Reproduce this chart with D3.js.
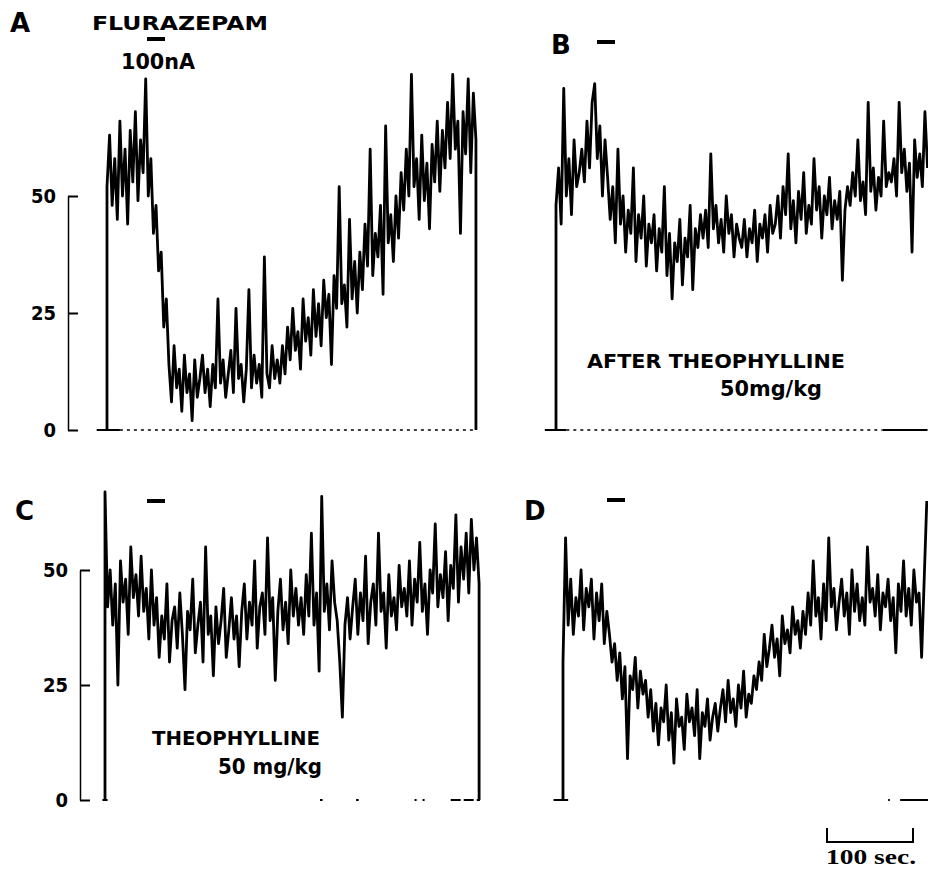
<!DOCTYPE html>
<html><head><meta charset="utf-8">
<script src="https://cdn.jsdelivr.net/npm/d3@7"></script>
<style>
html,body{margin:0;padding:0;background:#fff;}
svg{display:block;}
.lab{font-family:"DejaVu Sans","Liberation Sans",sans-serif;font-weight:bold;fill:#000;}
.tick text{font-family:"DejaVu Sans Condensed","Liberation Sans Narrow","DejaVu Sans",sans-serif;font-weight:bold;font-size:20px;fill:#000;}
</style></head>
<body>
<script>
// ---- data (firing rate, spikes/s; sampled every 3 s) ----
const sampleStep = 3;
const yTicks = [0, 25, 50];
const panelLetters = ["A", "B", "C", "D"];

const traceA = [52,63,48,58,45,66,50,60,44,64,53,68,49,62,55,75,
  50,58,42,48,34,38,22,28,
  14,6,18,9,13,4,16,8,12,2,15,7,11,
  16,8,13,5,14,9,28,10,15,7,12,17,8,26,11,14,6,13,30,9,16,10,14,7,37,12,9,18,11,15,10,
  18,12,22,15,26,17,21,13,28,19,24,16,30,20,27,18,32,
  24,29,14,33,26,52,27,31,22,45,28,36,25,
  38,30,44,35,60,33,42,37,48,29,65,40,46,36,50,41,
  55,47,60,50,76,52,58,45,63,49,57,43,61,53,66,51,
  64,56,70,58,76,60,66,42,68,59,75,55,72,62];

const traceB = [48,56,44,73,50,58,46,62,52,55,
  60,53,66,56,70,74,58,65,50,62,54,
  45,52,40,60,44,50,38,47,42,56,36,46,41,50,35,44,
  40,46,34,43,38,52,33,42,28,40,36,45,31,41,37,48,30,43,39,46,
  41,47,39,59,43,48,40,45,38,50,42,46,37,44,41,
  39,45,37,43,40,47,36,44,41,46,38,48,42,
  44,50,41,52,46,59,43,49,40,51,45,55,42,48,44,58,47,52,41,50,46,54,43,49,45,51,
  32,47,52,48,55,50,62,49,53,46,70,51,56,47,54,50,66,52,55,
  53,58,50,70,55,60,51,57,38,62,54,59,52,68,56];

const traceC = [67,
  42,50,38,47,25,52,43,48,36,55,44,49,40,53,41,46,35,50,
  38,44,31,40,35,47,30,39,42,33,45,36,24,41,37,48,32,38,43,30,55,36,40,27,42,34,39,46,31,37,44,35,40,29,
  41,47,35,43,38,52,33,42,45,36,57,39,44,26,41,48,37,43,34,50,40,46,38,
  44,36,49,40,58,38,45,28,66,41,47,37,52,43,39,
  30,18,38,44,35,
  42,48,36,45,39,53,34,43,47,38,58,41,45,33,49,40,44,37,51,42,
  46,40,52,38,48,43,56,41,47,36,50,45,60,42,49,44,54,39,51,46,62,43,55,48,58,45,61,50,57,47];

const traceD = [30,57,38,48,36,
  44,40,50,37,46,42,48,35,45,39,47,34,41,36,
  30,34,26,32,22,29,9,27,24,31,20,28,23,26,18,
  24,15,21,12,20,17,25,13,19,8,22,16,18,11,23,17,20,14,24,9,19,16,22,13,18,21,15,
  20,24,17,26,19,22,16,25,20,28,18,23,21,27,24,
  30,26,36,29,33,38,31,35,27,40,34,37,32,42,36,39,33,
  41,36,45,38,52,40,44,35,47,39,57,42,46,37,43,48,40,45,36,50,41,47,39,44,38,55,43,46,40,49,37,45,42,48,39,44,32,47,41,52,40,46,38,50,43,45,31,48,65];

// ---- layout ----
const W = 928, H = 871;
const svg = d3.select("body").append("svg").attr("width", W).attr("height", H);

const pxPer100s = 86;
const yTop = d3.scaleLinear().domain([0, 50]).range([430, 196]);
const yBot = d3.scaleLinear().domain([0, 50]).range([800, 570]);

const panels = [
  {data: traceA, x0: 107, y: yTop, closeEnd: true},
  {data: traceB, x0: 556, y: yTop, closeEnd: false},
  {data: traceC, x0: 105, y: yBot, closeEnd: true},
  {data: traceD, x0: 563, y: yBot, closeEnd: false}
];

panels.forEach(p => {
  const x = d3.scaleLinear().domain([0, 100]).range([p.x0, p.x0 + pxPer100s]);
  p.x = x;
  const pts = p.data.map((v, i) => [i * sampleStep, v]);
  const tEnd = (p.data.length - 1) * sampleStep;
  const full = [[0, 0]].concat(pts);
  if (p.closeEnd) full.push([tEnd, 0]);
  const line = d3.line().x(d => x(d[0])).y(d => p.y(d[1])).curve(d3.curveLinear);
  svg.append("path").attr("d", line(full))
    .attr("fill", "none").attr("stroke", "#000").attr("stroke-width", 2.8)
    .attr("stroke-linejoin", "round");
});

// baselines
function baseline(p, t0, t1, dash, sw) {
  svg.append("line").attr("x1", p.x(t0)).attr("x2", p.x(t1))
    .attr("y1", p.y(0)).attr("y2", p.y(0))
    .attr("stroke", "#000").attr("stroke-width", sw || 1.5)
    .attr("stroke-dasharray", dash || null);
}
const [pA, pB, pC, pD] = panels;
baseline(pA, -12, 15, null, 2);
baseline(pA, 15, 430, "3,4");
baseline(pB, -13, 12, null, 2);
baseline(pB, 12, 380, "3,4");
baseline(pB, 380, 432, null, 2);
baseline(pC, -3, 3, null, 2);
baseline(pC, 250, 253, null, 2);
baseline(pC, 292, 295, null, 2);
baseline(pC, 360, 373, "2,6", 2);
baseline(pC, 402, 436, "10,3", 2);
baseline(pD, -11, 6, null, 2);
baseline(pD, 378, 380, null, 2);
baseline(pD, 392, 425, null, 2);

// y axes (ticks point inward)
function yAxis(scale, xPos) {
  const g = svg.append("g").attr("transform", `translate(${xPos},0)`)
    .call(d3.axisLeft(scale).tickValues(yTicks).tickSizeInner(-10).tickSizeOuter(0).tickPadding(12));
  g.select(".domain").attr("stroke", "#000").attr("stroke-width", 1.5);
  g.selectAll(".tick line").attr("stroke", "#000").attr("stroke-width", 2);
  return g;
}
yAxis(yTop, 68);
yAxis(yBot, 80);

// stimulus bars
function bar(x1, x2, y) {
  svg.append("line").attr("x1", x1).attr("x2", x2).attr("y1", y).attr("y2", y)
    .attr("stroke", "#000").attr("stroke-width", 4);
}
bar(147, 165, 39);
bar(597, 615, 42);
bar(147, 165, 501);
bar(607, 625, 500);

// text
function txt(s, x, y, size, len) {
  const t = svg.append("text").attr("class", "lab").attr("x", x).attr("y", y)
    .attr("font-size", size).text(s);
  if (len) t.attr("textLength", len).attr("lengthAdjust", "spacingAndGlyphs");
  return t;
}
txt(panelLetters[0], 10, 32, 26);
txt(panelLetters[1], 551, 54, 26);
txt(panelLetters[2], 15, 520, 26);
txt(panelLetters[3], 524, 520, 26);
txt("FLURAZEPAM", 92, 30, 20, 176);
txt("100nA", 121, 69, 21, 74);
txt("AFTER THEOPHYLLINE", 587, 368, 19, 258);
txt("50mg/kg", 720, 396, 21, 102);
txt("THEOPHYLLINE", 152, 745, 19, 168);
txt("50 mg/kg", 218, 774, 21, 104);

// time scale bar
svg.append("path").attr("d", `M827,828V842H913V828`)
  .attr("fill", "none").attr("stroke", "#000").attr("stroke-width", 2);
svg.append("text").attr("x", 826).attr("y", 864)
  .attr("font-family", "'Liberation Serif','DejaVu Serif',serif").attr("font-weight", "bold")
  .attr("font-size", 22).attr("textLength", 90).attr("lengthAdjust", "spacingAndGlyphs")
  .text("100 sec.");
</script>
</body></html>
